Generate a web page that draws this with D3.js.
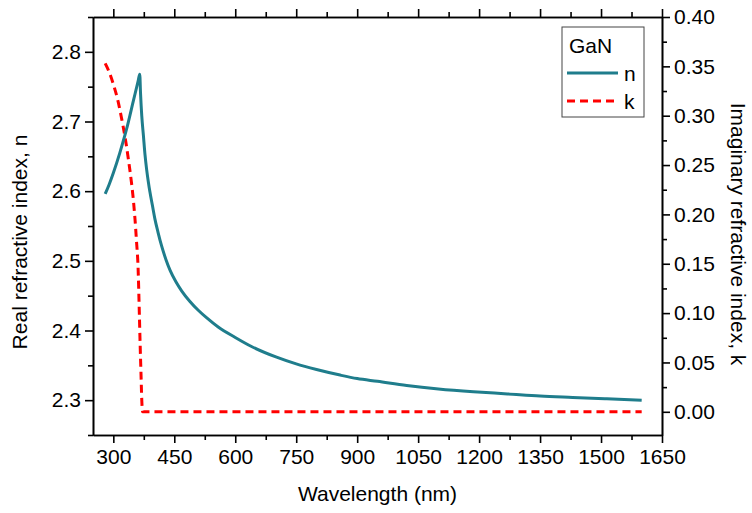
<!DOCTYPE html>
<html>
<head>
<meta charset="utf-8">
<script src="https://cdn.jsdelivr.net/npm/d3@7"></script>
<style>
  html, body { margin: 0; padding: 0; background: #fff; }
  svg { display: block; }
  text { font-family: "Liberation Sans", Arial, sans-serif; fill: #000; }
</style>
</head>
<body>
<svg id="chart" width="752" height="513"></svg>
<script>
// ---- Data ----
const wavelengthN = [280, 290, 300, 316, 333, 349, 361, 365, 367, 370, 374, 378, 382, 386, 390, 396, 402, 410, 419, 430, 440, 454, 468, 488, 509, 530, 558, 600, 640, 700, 750, 800, 858, 900, 950, 1022, 1100, 1186, 1270, 1350, 1430, 1514, 1600];
const nValues    = [2.596, 2.610, 2.626, 2.655, 2.690, 2.729, 2.758, 2.768, 2.740, 2.708, 2.680, 2.652, 2.631, 2.614, 2.599, 2.580, 2.561, 2.541, 2.521, 2.501, 2.486, 2.470, 2.457, 2.442, 2.429, 2.418, 2.405, 2.390, 2.377, 2.362, 2.352, 2.344, 2.336, 2.331, 2.327, 2.321, 2.316, 2.312, 2.309, 2.306, 2.304, 2.302, 2.300];

const wavelengthK = [280, 290, 300, 312, 320, 329, 337, 345, 349, 353, 357, 361, 364, 366, 368, 370, 372, 400, 600, 800, 1000, 1200, 1400, 1600];
const kValues     = [0.353, 0.344, 0.332, 0.314, 0.298, 0.278, 0.256, 0.231, 0.216, 0.197, 0.173, 0.145, 0.100, 0.068, 0.040, 0.012, 0.000, 0.000, 0.000, 0.000, 0.000, 0.000, 0.000, 0.000];

const xMajorTicks = [300, 450, 600, 750, 900, 1050, 1200, 1350, 1500, 1650];
const xMinorTicks = [375, 525, 675, 825, 975, 1125, 1275, 1425, 1575];
const nMajorTicks = [2.3, 2.4, 2.5, 2.6, 2.7, 2.8];
const nMinorTicks = [2.25, 2.35, 2.45, 2.55, 2.65, 2.75, 2.85];
const kMajorTicks = [0.00, 0.05, 0.10, 0.15, 0.20, 0.25, 0.30, 0.35, 0.40];
const kMinorTicks = [0.025, 0.075, 0.125, 0.175, 0.225, 0.275, 0.325, 0.375];

const seriesNames = ["n", "k"];
const legendTitle = "GaN";
const xTitle = "Wavelength (nm)";
const yLeftTitle = "Real refractive index, n";
const yRightTitle = "Imaginary refractive index, k";

// ---- Layout ----
const L = 93, R = 662, T = 17, B = 435;
const colorN = "#1f7d8c";
const colorK = "#ff0000";
const fs = 21;

const svg = d3.select("#chart");
svg.append("rect").attr("width", 752).attr("height", 513).attr("fill", "#fff");

const x = d3.scaleLinear().domain([250, 1650]).range([L, R]);
const yL = d3.scaleLinear().domain([2.25, 2.85]).range([B, T]);
const yR = d3.scaleLinear().domain([-0.0235, 0.40]).range([B, T]);

function styleAxis(g) {
  g.selectAll("path.domain").attr("stroke", "#000").attr("stroke-width", 1.6);
  g.selectAll(".tick line").attr("stroke", "#000").attr("stroke-width", 1.6);
  g.selectAll(".tick text").attr("font-size", fs).attr("font-family", "Liberation Sans, Arial, sans-serif").attr("fill", "#000");
}

// bottom axis
const gB = svg.append("g").attr("transform", `translate(0,${B})`)
  .call(d3.axisBottom(x).tickValues(xMajorTicks).tickSize(8).tickSizeOuter(0).tickPadding(6).tickFormat(d3.format("d")));
styleAxis(gB);
const gBm = svg.append("g").attr("transform", `translate(0,${B})`)
  .call(d3.axisBottom(x).tickValues(xMinorTicks).tickSize(5).tickSizeOuter(0).tickFormat(""));
styleAxis(gBm);

// top axis
const gT = svg.append("g").attr("transform", `translate(0,${T})`)
  .call(d3.axisTop(x).tickValues(xMajorTicks).tickSize(8).tickSizeOuter(0).tickFormat(""));
styleAxis(gT);
const gTm = svg.append("g").attr("transform", `translate(0,${T})`)
  .call(d3.axisTop(x).tickValues(xMinorTicks).tickSize(5).tickSizeOuter(0).tickFormat(""));
styleAxis(gTm);

// left axis
const gL = svg.append("g").attr("transform", `translate(${L},0)`)
  .call(d3.axisLeft(yL).tickValues(nMajorTicks).tickSize(8).tickSizeOuter(0).tickPadding(4).tickFormat(d3.format(".1f")));
styleAxis(gL);
const gLm = svg.append("g").attr("transform", `translate(${L},0)`)
  .call(d3.axisLeft(yL).tickValues(nMinorTicks).tickSize(5).tickSizeOuter(0).tickFormat(""));
styleAxis(gLm);

// right axis
const gR = svg.append("g").attr("transform", `translate(${R},0)`)
  .call(d3.axisRight(yR).tickValues(kMajorTicks).tickSize(8).tickSizeOuter(0).tickPadding(4).tickFormat(d3.format(".2f")));
styleAxis(gR);
const gRm = svg.append("g").attr("transform", `translate(${R},0)`)
  .call(d3.axisRight(yR).tickValues(kMinorTicks).tickSize(5).tickSizeOuter(0).tickFormat(""));
styleAxis(gRm);

// clip
svg.append("clipPath").attr("id", "clip").append("rect")
  .attr("x", L).attr("y", T).attr("width", R - L).attr("height", B - T);

const lineN = d3.line().x((d, i) => x(wavelengthN[i])).y(d => yL(d)).curve(d3.curveMonotoneX);
const lineK = d3.line().x((d, i) => x(wavelengthK[i])).y(d => yR(d)).curve(d3.curveMonotoneX);

const plot = svg.append("g").attr("clip-path", "url(#clip)");
plot.append("path").datum(kValues).attr("d", lineK)
  .attr("fill", "none").attr("stroke", colorK).attr("stroke-width", 3)
  .attr("stroke-dasharray", "8,5");
plot.append("path").datum(nValues).attr("d", lineN)
  .attr("fill", "none").attr("stroke", colorN).attr("stroke-width", 3)
  .attr("stroke-linejoin", "round");

// titles
svg.append("text").attr("x", (L + R) / 2).attr("y", 501)
  .attr("text-anchor", "middle").attr("font-size", 21).text(xTitle);
svg.append("text").attr("transform", `translate(27,242) rotate(-90)`)
  .attr("text-anchor", "middle").attr("font-size", 21).text(yLeftTitle);
svg.append("text").attr("transform", `translate(731,234) rotate(90)`)
  .attr("text-anchor", "middle").attr("font-size", 21).text(yRightTitle);

// legend
const lg = svg.append("g");
lg.append("rect").attr("x", 562).attr("y", 27).attr("width", 82).attr("height", 90)
  .attr("fill", "#fff").attr("stroke", "#444").attr("stroke-width", 1);
lg.append("text").attr("x", 569).attr("y", 53).attr("font-size", 21).text(legendTitle);
lg.append("line").attr("x1", 567).attr("x2", 618).attr("y1", 73).attr("y2", 73)
  .attr("stroke", colorN).attr("stroke-width", 3);
lg.append("text").attr("x", 624).attr("y", 81).attr("font-size", 21).text(seriesNames[0]);
lg.append("line").attr("x1", 567).attr("x2", 618).attr("y1", 101).attr("y2", 101)
  .attr("stroke", colorK).attr("stroke-width", 3).attr("stroke-dasharray", "8,5");
lg.append("text").attr("x", 624).attr("y", 109).attr("font-size", 21).text(seriesNames[1]);
</script>
</body>
</html>
